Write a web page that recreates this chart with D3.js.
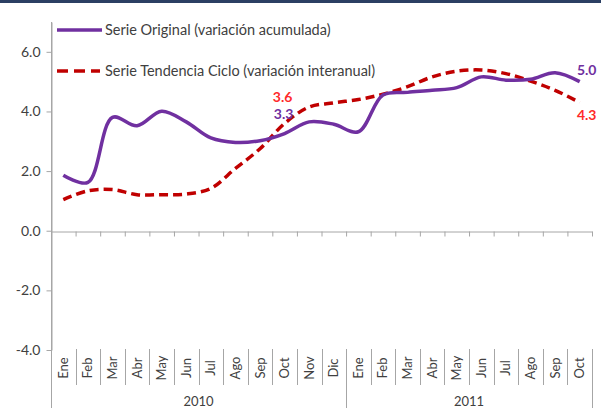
<!DOCTYPE html>
<html><head><meta charset="utf-8">
<script src="https://cdn.jsdelivr.net/npm/d3@7"></script>
<style>body{margin:0;background:#fff;} svg{display:block;font-family:Lato, "Open Sans", sans-serif;}</style>
</head><body>
<svg id="c" width="601" height="408"></svg>
<script>
const months = ["Ene","Feb","Mar","Abr","May","Jun","Jul","Ago","Sep","Oct","Nov","Dic","Ene","Feb","Mar","Abr","May","Jun","Jul","Ago","Sep","Oct"];
const years = ["2010","2011"];
const yearSpans = [12, 10];
const serieOriginal = [1.86,1.62,3.8,3.52,4.01,3.65,3.11,2.96,3.02,3.26,3.65,3.57,3.32,4.55,4.64,4.71,4.8,5.16,5.05,5.08,5.3,5.0];
const serieTendencia = [1.04,1.34,1.38,1.21,1.21,1.23,1.42,2.09,2.75,3.6,4.15,4.29,4.4,4.58,4.83,5.16,5.35,5.39,5.27,5.02,4.71,4.3];
const yTicks = [-4,-2,0,2,4,6];
const legendNames = ["Serie Original (variación acumulada)","Serie Tendencia Ciclo (variación interanual)"];

const svg = d3.select("#c");
const X0 = 51, X1 = 592, Y0 = 350, Y1 = 22;
const purple = "#7030a0", red = "#c00000", gray = "#a6a6a6", txt = "#404040";

svg.append("rect").attr("x",0).attr("y",0).attr("width",601).attr("height",3).attr("fill","#2b3f63");

const x = d3.scaleBand().domain(d3.range(months.length)).range([X0, X1]);
const xb = d3.scaleLinear().domain([0, months.length]).range([X0, X1]);
const y = d3.scaleLinear().domain([-4, 7]).range([Y0, Y1]);

// Y axis
const ya = svg.append("g").attr("transform",`translate(${X0+0.5},0)`)
  .call(d3.axisLeft(y).tickValues(yTicks).tickSize(5).tickSizeOuter(0).tickFormat(d => d.toFixed(1)));
ya.select(".domain").attr("stroke",gray);
ya.selectAll(".tick line").attr("stroke",gray);
ya.selectAll(".tick text").attr("fill",txt).style("font-size","14px").style("font-family","Lato, sans-serif").attr("x",-11);
svg.append("line").attr("x1",X0+0.5).attr("x2",X0+0.5).attr("y1",Y1).attr("y2",408).attr("stroke",gray);

// X axis at zero
const xa = svg.append("g").attr("transform",`translate(0,${Math.round(y(0))+0.5})`)
  .call(d3.axisBottom(xb).tickValues(d3.range(months.length+1)).tickSize(5).tickSizeOuter(0).tickFormat(""));
xa.select(".domain").attr("stroke",gray);
xa.selectAll(".tick line").attr("stroke",gray);

// Category separators at bottom
const yearBounds = [0]; yearSpans.reduce((a,b)=>{yearBounds.push(a+b); return a+b;},0);
d3.range(months.length+1).forEach(k=>{
  const isYear = yearBounds.includes(k);
  if (k===0) return;
  svg.append("line").attr("x1",Math.round(xb(k))+0.5).attr("x2",Math.round(xb(k))+0.5)
    .attr("y1",349).attr("y2",isYear?408:385).attr("stroke",gray);
});
// Month labels
svg.append("g").selectAll("text").data(months).join("text")
  .attr("transform",(d,i)=>`translate(${x(i)+x.bandwidth()/2+4.5},368) rotate(-90)`)
  .attr("text-anchor","middle").attr("fill",txt).style("font-size","13px").text(d=>d);
// Year labels
years.forEach((yr,i)=>{
  const c = (xb(yearBounds[i]) + xb(yearBounds[i+1]))/2;
  svg.append("text").attr("x",c).attr("y",406).attr("text-anchor","middle").attr("fill",txt).style("font-size","13px").text(yr);
});

// Lines
const line = d3.line().x((d,i)=>x(i)+x.bandwidth()/2).y(d=>y(d)).curve(d3.curveCatmullRom.alpha(0.5));
svg.append("path").datum(serieTendencia).attr("d",line).attr("fill","none").attr("stroke",red)
  .attr("stroke-width",3.5).attr("stroke-dasharray","9,5");
svg.append("path").datum(serieOriginal).attr("d",line).attr("fill","none").attr("stroke",purple)
  .attr("stroke-width",3.5);

// Data labels
const last = months.length-1, oct = 9;
const cx = i => x(i)+x.bandwidth()/2;
function lab(t, px, py, col){
  svg.append("text").attr("x",px).attr("y",py).attr("text-anchor","middle").attr("fill",col)
    .style("font-size","14px").style("font-weight","bold").text(t);
}
lab(serieTendencia[oct].toFixed(1), cx(oct)-2, y(serieTendencia[oct])-21, "#ff2a2a");
lab(serieOriginal[oct].toFixed(1), cx(oct)-1, y(serieOriginal[oct])-15, purple);
lab(serieOriginal[last].toFixed(1), cx(last)+7, y(serieOriginal[last])-7, purple);
lab(serieTendencia[last].toFixed(1), cx(last)+7, y(serieTendencia[last])+17, "#ff2a2a");

// Legend
const lg = svg.append("g");
lg.append("line").attr("x1",57).attr("x2",102).attr("y1",30).attr("y2",30).attr("stroke",purple).attr("stroke-width",3.5);
lg.append("line").attr("x1",57).attr("x2",100).attr("y1",71).attr("y2",71).attr("stroke",red).attr("stroke-width",3.5).attr("stroke-dasharray","11,6");
legendNames.forEach((n,i)=>{
  lg.append("text").attr("x",105).attr("y",[35,76][i]).attr("fill",txt).style("font-size","14.5px").text(n);
});
</script>
</body></html>
